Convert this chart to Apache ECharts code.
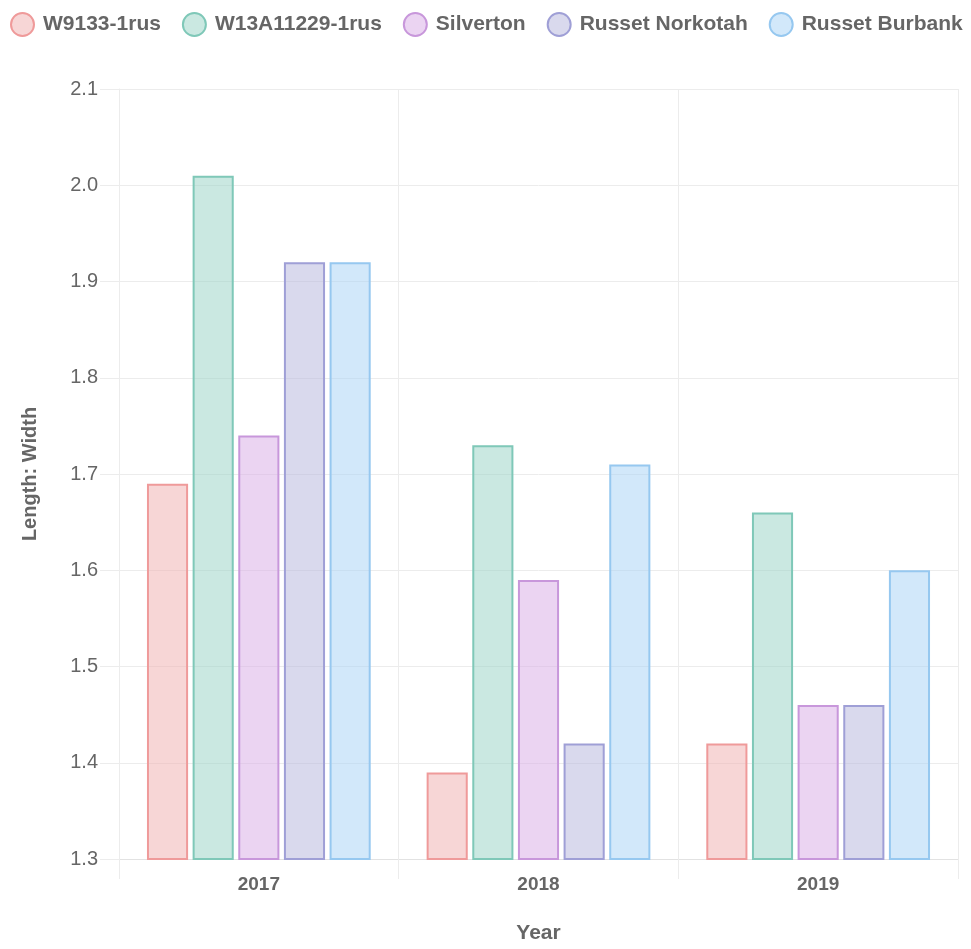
<!DOCTYPE html>
<html><head><meta charset="utf-8">
<script src="https://cdn.jsdelivr.net/npm/echarts@6/dist/echarts.min.js"></script>
<style>html,body{margin:0;padding:0;background:#fff}#c{width:971px;height:949px}</style>
</head><body><div id="c"></div>
<script>
const categories = ['2017', '2018', '2019'];
const seriesNames = ['W9133-1rus', 'W13A11229-1rus', 'Silverton', 'Russet Norkotah', 'Russet Burbank'];
const w9133 = [1.69, 1.39, 1.42];
const w13a = [2.01, 1.73, 1.66];
const silverton = [1.74, 1.59, 1.46];
const norkotah = [1.92, 1.42, 1.46];
const burbank = [1.92, 1.71, 1.60];
const yTicks = [1.3, 1.4, 1.5, 1.6, 1.7, 1.8, 1.9, 2.0, 2.1];

const values = [w9133, w13a, silverton, norkotah, burbank];
const fills = ['rgba(240,180,180,0.55)', 'rgba(150,210,195,0.5)', 'rgba(215,170,230,0.5)', 'rgba(180,180,220,0.5)', 'rgba(165,210,245,0.5)'];
const borders = ['#ef9a9a', '#7fc8b8', '#c897db', '#9f9fd6', '#96c8f0'];
const font = 'Helvetica, "Liberation Sans", Arial, sans-serif';

const chart = echarts.init(document.getElementById('c'));
chart.setOption({
  animation: false,
  legend: {
    top: 12, left: 10, padding: 0,
    icon: 'circle', itemWidth: 23, itemHeight: 23, itemGap: 21,
    textStyle: {fontFamily: font, fontSize: 21, fontWeight: 'bold', color: '#666', padding: [0, 0, 0, 4]},
    data: seriesNames
  },
  grid: {left: 119, right: 13, top: 89, bottom: 77},
  xAxis: {
    type: 'category', data: categories,
    name: 'Year', nameLocation: 'middle', nameGap: 64,
    nameTextStyle: {fontFamily: font, fontSize: 21, fontWeight: 'bold', color: '#666'},
    axisLine: {lineStyle: {color: '#e2e2e2'}},
    axisTick: {show: true, length: 20, lineStyle: {color: '#ececec'}},
    splitLine: {show: true, lineStyle: {color: '#ececec'}},
    axisLabel: {fontFamily: font, fontSize: 19, fontWeight: 'bold', color: '#666', margin: 16}
  },
  yAxis: {
    type: 'value', min: 1.3, max: 2.1, interval: 0.1,
    name: 'Length: Width', nameLocation: 'middle', nameGap: 79,
    nameTextStyle: {fontFamily: font, fontSize: 20, fontWeight: 'bold', color: '#666'},
    axisLine: {show: true, lineStyle: {color: '#ececec'}},
    axisTick: {show: true, length: 19, lineStyle: {color: '#ececec'}},
    splitLine: {show: true, lineStyle: {color: '#ececec'}},
    axisLabel: {fontFamily: font, fontSize: 20, color: '#666', margin: 21,
      formatter: v => (Math.round(v * 10) / 10).toFixed(1)}
  },
  series: seriesNames.map((n, i) => ({
    name: n, type: 'bar', data: values[i],
    barCategoryGap: '20%', barGap: '11%',
    itemStyle: {color: fills[i], borderColor: borders[i], borderWidth: 2}
  }))
});
</script></body></html>
